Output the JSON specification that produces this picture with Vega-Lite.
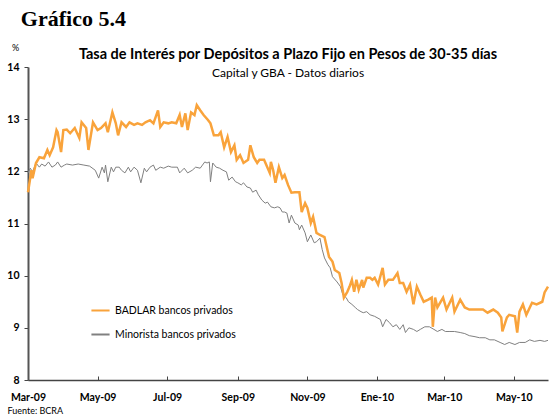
{
  "$schema": "https://vega.github.io/schema/vega-lite/v6.json",
  "background": "white",
  "padding": {"left": 6, "top": 8, "right": 2, "bottom": 2},
  "title": {"text": "Gráfico 5.4", "anchor": "start", "frame": "bounds", "font": "Liberation Serif", "fontSize": 22, "fontWeight": "bold", "color": "black", "dx": 14, "offset": 12},
  "config": {"view": {"stroke": null}, "font": "Lato", "concat": {"spacing": 0}},
  "vconcat": [
    {
      "width": 520,
      "height": 313,
      "title": {"text": "Tasa de Interés por Depósitos a Plazo Fijo en Pesos de 30-35 días", "subtitle": "Capital y GBA - Datos diarios", "font": "Lato", "fontSize": 14.5, "fontWeight": "bold", "color": "black", "subtitleFont": "Lato", "subtitleFontSize": 12, "subtitleColor": "black", "subtitlePadding": 6, "offset": -37, "anchor": "middle", "frame": "group"},
      "data": {"values": [
        {"date": "2009-03-01", "series": "Minorista", "value": 11.97},
        {"date": "2009-03-03", "series": "Minorista", "value": 12.06},
        {"date": "2009-03-05", "series": "Minorista", "value": 11.99},
        {"date": "2009-03-08", "series": "Minorista", "value": 12.16},
        {"date": "2009-03-11", "series": "Minorista", "value": 12.08},
        {"date": "2009-03-13", "series": "Minorista", "value": 12.14},
        {"date": "2009-03-16", "series": "Minorista", "value": 12.10},
        {"date": "2009-03-19", "series": "Minorista", "value": 12.18},
        {"date": "2009-03-22", "series": "Minorista", "value": 12.08},
        {"date": "2009-03-25", "series": "Minorista", "value": 12.12},
        {"date": "2009-03-27", "series": "Minorista", "value": 12.18},
        {"date": "2009-03-30", "series": "Minorista", "value": 12.08},
        {"date": "2009-04-02", "series": "Minorista", "value": 12.12},
        {"date": "2009-04-04", "series": "Minorista", "value": 12.14},
        {"date": "2009-04-09", "series": "Minorista", "value": 12.12},
        {"date": "2009-04-14", "series": "Minorista", "value": 12.14},
        {"date": "2009-04-19", "series": "Minorista", "value": 12.12},
        {"date": "2009-04-24", "series": "Minorista", "value": 12.10},
        {"date": "2009-04-29", "series": "Minorista", "value": 12.02},
        {"date": "2009-05-02", "series": "Minorista", "value": 11.87},
        {"date": "2009-05-05", "series": "Minorista", "value": 12.08},
        {"date": "2009-05-07", "series": "Minorista", "value": 11.97},
        {"date": "2009-05-08", "series": "Minorista", "value": 12.12},
        {"date": "2009-05-10", "series": "Minorista", "value": 11.80},
        {"date": "2009-05-13", "series": "Minorista", "value": 12.08},
        {"date": "2009-05-15", "series": "Minorista", "value": 11.99},
        {"date": "2009-05-17", "series": "Minorista", "value": 12.08},
        {"date": "2009-05-20", "series": "Minorista", "value": 12.08},
        {"date": "2009-05-22", "series": "Minorista", "value": 12.02},
        {"date": "2009-05-25", "series": "Minorista", "value": 11.97},
        {"date": "2009-05-28", "series": "Minorista", "value": 12.08},
        {"date": "2009-05-30", "series": "Minorista", "value": 11.99},
        {"date": "2009-06-02", "series": "Minorista", "value": 12.08},
        {"date": "2009-06-05", "series": "Minorista", "value": 12.02},
        {"date": "2009-06-08", "series": "Minorista", "value": 11.78},
        {"date": "2009-06-11", "series": "Minorista", "value": 12.06},
        {"date": "2009-06-13", "series": "Minorista", "value": 11.99},
        {"date": "2009-06-16", "series": "Minorista", "value": 12.08},
        {"date": "2009-06-19", "series": "Minorista", "value": 12.12},
        {"date": "2009-06-21", "series": "Minorista", "value": 12.02},
        {"date": "2009-06-25", "series": "Minorista", "value": 12.08},
        {"date": "2009-06-28", "series": "Minorista", "value": 12.06},
        {"date": "2009-07-02", "series": "Minorista", "value": 12.10},
        {"date": "2009-07-05", "series": "Minorista", "value": 12.08},
        {"date": "2009-07-10", "series": "Minorista", "value": 12.08},
        {"date": "2009-07-12", "series": "Minorista", "value": 11.97},
        {"date": "2009-07-16", "series": "Minorista", "value": 12.06},
        {"date": "2009-07-19", "series": "Minorista", "value": 11.97},
        {"date": "2009-07-23", "series": "Minorista", "value": 12.02},
        {"date": "2009-07-26", "series": "Minorista", "value": 12.08},
        {"date": "2009-07-30", "series": "Minorista", "value": 12.06},
        {"date": "2009-08-01", "series": "Minorista", "value": 12.12},
        {"date": "2009-08-03", "series": "Minorista", "value": 12.18},
        {"date": "2009-08-05", "series": "Minorista", "value": 12.16},
        {"date": "2009-08-07", "series": "Minorista", "value": 12.18},
        {"date": "2009-08-08", "series": "Minorista", "value": 11.80},
        {"date": "2009-08-10", "series": "Minorista", "value": 12.16},
        {"date": "2009-08-13", "series": "Minorista", "value": 12.08},
        {"date": "2009-08-16", "series": "Minorista", "value": 12.06},
        {"date": "2009-08-19", "series": "Minorista", "value": 12.02},
        {"date": "2009-08-22", "series": "Minorista", "value": 11.99},
        {"date": "2009-08-24", "series": "Minorista", "value": 11.83},
        {"date": "2009-08-27", "series": "Minorista", "value": 11.89},
        {"date": "2009-08-30", "series": "Minorista", "value": 11.80},
        {"date": "2009-09-01", "series": "Minorista", "value": 11.78},
        {"date": "2009-09-04", "series": "Minorista", "value": 11.74},
        {"date": "2009-09-06", "series": "Minorista", "value": 11.78},
        {"date": "2009-09-09", "series": "Minorista", "value": 11.70},
        {"date": "2009-09-12", "series": "Minorista", "value": 11.68},
        {"date": "2009-09-14", "series": "Minorista", "value": 11.60},
        {"date": "2009-09-17", "series": "Minorista", "value": 11.64},
        {"date": "2009-09-19", "series": "Minorista", "value": 11.55},
        {"date": "2009-09-22", "series": "Minorista", "value": 11.45},
        {"date": "2009-09-25", "series": "Minorista", "value": 11.39},
        {"date": "2009-09-27", "series": "Minorista", "value": 11.41},
        {"date": "2009-09-30", "series": "Minorista", "value": 11.32},
        {"date": "2009-10-03", "series": "Minorista", "value": 11.30},
        {"date": "2009-10-06", "series": "Minorista", "value": 11.32},
        {"date": "2009-10-08", "series": "Minorista", "value": 11.30},
        {"date": "2009-10-10", "series": "Minorista", "value": 11.22},
        {"date": "2009-10-12", "series": "Minorista", "value": 11.22},
        {"date": "2009-10-14", "series": "Minorista", "value": 11.20},
        {"date": "2009-10-16", "series": "Minorista", "value": 11.01},
        {"date": "2009-10-18", "series": "Minorista", "value": 11.16},
        {"date": "2009-10-21", "series": "Minorista", "value": 11.01},
        {"date": "2009-10-24", "series": "Minorista", "value": 10.97},
        {"date": "2009-10-25", "series": "Minorista", "value": 10.88},
        {"date": "2009-10-27", "series": "Minorista", "value": 10.97},
        {"date": "2009-10-30", "series": "Minorista", "value": 10.82},
        {"date": "2009-11-01", "series": "Minorista", "value": 10.65},
        {"date": "2009-11-04", "series": "Minorista", "value": 10.78},
        {"date": "2009-11-07", "series": "Minorista", "value": 10.63},
        {"date": "2009-11-09", "series": "Minorista", "value": 10.65},
        {"date": "2009-11-12", "series": "Minorista", "value": 10.72},
        {"date": "2009-11-14", "series": "Minorista", "value": 10.50},
        {"date": "2009-11-16", "series": "Minorista", "value": 10.34},
        {"date": "2009-11-19", "series": "Minorista", "value": 10.21},
        {"date": "2009-11-21", "series": "Minorista", "value": 10.15},
        {"date": "2009-11-23", "series": "Minorista", "value": 9.98},
        {"date": "2009-11-27", "series": "Minorista", "value": 9.88},
        {"date": "2009-11-30", "series": "Minorista", "value": 9.79},
        {"date": "2009-12-02", "series": "Minorista", "value": 9.64},
        {"date": "2009-12-05", "series": "Minorista", "value": 9.58},
        {"date": "2009-12-07", "series": "Minorista", "value": 9.50},
        {"date": "2009-12-10", "series": "Minorista", "value": 9.45},
        {"date": "2009-12-13", "series": "Minorista", "value": 9.39},
        {"date": "2009-12-15", "series": "Minorista", "value": 9.35},
        {"date": "2009-12-18", "series": "Minorista", "value": 9.31},
        {"date": "2009-12-20", "series": "Minorista", "value": 9.29},
        {"date": "2009-12-23", "series": "Minorista", "value": 9.31},
        {"date": "2009-12-26", "series": "Minorista", "value": 9.25},
        {"date": "2009-12-30", "series": "Minorista", "value": 9.22},
        {"date": "2010-01-04", "series": "Minorista", "value": 9.16},
        {"date": "2010-01-06", "series": "Minorista", "value": 9.02},
        {"date": "2010-01-09", "series": "Minorista", "value": 9.16},
        {"date": "2010-01-12", "series": "Minorista", "value": 9.10},
        {"date": "2010-01-15", "series": "Minorista", "value": 9.02},
        {"date": "2010-01-18", "series": "Minorista", "value": 9.06},
        {"date": "2010-01-21", "series": "Minorista", "value": 8.97},
        {"date": "2010-01-24", "series": "Minorista", "value": 9.06},
        {"date": "2010-01-26", "series": "Minorista", "value": 8.91},
        {"date": "2010-01-29", "series": "Minorista", "value": 9.00},
        {"date": "2010-02-02", "series": "Minorista", "value": 8.97},
        {"date": "2010-02-05", "series": "Minorista", "value": 8.93},
        {"date": "2010-02-08", "series": "Minorista", "value": 8.97},
        {"date": "2010-02-12", "series": "Minorista", "value": 9.02},
        {"date": "2010-02-16", "series": "Minorista", "value": 9.02},
        {"date": "2010-02-20", "series": "Minorista", "value": 8.97},
        {"date": "2010-02-23", "series": "Minorista", "value": 8.93},
        {"date": "2010-02-27", "series": "Minorista", "value": 8.97},
        {"date": "2010-03-02", "series": "Minorista", "value": 8.93},
        {"date": "2010-03-06", "series": "Minorista", "value": 8.93},
        {"date": "2010-03-10", "series": "Minorista", "value": 8.93},
        {"date": "2010-03-15", "series": "Minorista", "value": 8.91},
        {"date": "2010-03-19", "series": "Minorista", "value": 8.89},
        {"date": "2010-03-23", "series": "Minorista", "value": 8.85},
        {"date": "2010-03-28", "series": "Minorista", "value": 8.83},
        {"date": "2010-04-01", "series": "Minorista", "value": 8.81},
        {"date": "2010-04-06", "series": "Minorista", "value": 8.81},
        {"date": "2010-04-10", "series": "Minorista", "value": 8.77},
        {"date": "2010-04-14", "series": "Minorista", "value": 8.77},
        {"date": "2010-04-19", "series": "Minorista", "value": 8.72},
        {"date": "2010-04-23", "series": "Minorista", "value": 8.68},
        {"date": "2010-04-27", "series": "Minorista", "value": 8.72},
        {"date": "2010-05-02", "series": "Minorista", "value": 8.68},
        {"date": "2010-05-06", "series": "Minorista", "value": 8.72},
        {"date": "2010-05-11", "series": "Minorista", "value": 8.72},
        {"date": "2010-05-15", "series": "Minorista", "value": 8.77},
        {"date": "2010-05-19", "series": "Minorista", "value": 8.74},
        {"date": "2010-05-24", "series": "Minorista", "value": 8.76},
        {"date": "2010-05-28", "series": "Minorista", "value": 8.74},
        {"date": "2010-05-31", "series": "Minorista", "value": 8.76},
        {"date": "2009-03-01", "series": "BADLAR", "value": 11.60},
        {"date": "2009-03-04", "series": "BADLAR", "value": 12.02},
        {"date": "2009-03-05", "series": "BADLAR", "value": 11.87},
        {"date": "2009-03-08", "series": "BADLAR", "value": 12.16},
        {"date": "2009-03-11", "series": "BADLAR", "value": 12.27},
        {"date": "2009-03-15", "series": "BADLAR", "value": 12.25},
        {"date": "2009-03-18", "series": "BADLAR", "value": 12.41},
        {"date": "2009-03-20", "series": "BADLAR", "value": 12.31},
        {"date": "2009-03-23", "series": "BADLAR", "value": 12.46},
        {"date": "2009-03-26", "series": "BADLAR", "value": 12.79},
        {"date": "2009-03-27", "series": "BADLAR", "value": 12.75},
        {"date": "2009-03-30", "series": "BADLAR", "value": 12.37},
        {"date": "2009-04-01", "series": "BADLAR", "value": 12.79},
        {"date": "2009-04-04", "series": "BADLAR", "value": 12.80},
        {"date": "2009-04-07", "series": "BADLAR", "value": 12.73},
        {"date": "2009-04-11", "series": "BADLAR", "value": 12.83},
        {"date": "2009-04-15", "series": "BADLAR", "value": 12.64},
        {"date": "2009-04-17", "series": "BADLAR", "value": 12.94},
        {"date": "2009-04-21", "series": "BADLAR", "value": 12.83},
        {"date": "2009-04-23", "series": "BADLAR", "value": 12.41},
        {"date": "2009-04-27", "series": "BADLAR", "value": 12.94},
        {"date": "2009-05-01", "series": "BADLAR", "value": 12.79},
        {"date": "2009-05-04", "series": "BADLAR", "value": 12.83},
        {"date": "2009-05-08", "series": "BADLAR", "value": 12.92},
        {"date": "2009-05-10", "series": "BADLAR", "value": 12.75},
        {"date": "2009-05-14", "series": "BADLAR", "value": 13.13},
        {"date": "2009-05-17", "series": "BADLAR", "value": 12.92},
        {"date": "2009-05-19", "series": "BADLAR", "value": 12.69},
        {"date": "2009-05-22", "series": "BADLAR", "value": 12.94},
        {"date": "2009-05-26", "series": "BADLAR", "value": 12.85},
        {"date": "2009-05-29", "series": "BADLAR", "value": 12.94},
        {"date": "2009-06-02", "series": "BADLAR", "value": 12.89},
        {"date": "2009-06-05", "series": "BADLAR", "value": 12.92},
        {"date": "2009-06-09", "series": "BADLAR", "value": 12.89},
        {"date": "2009-06-12", "series": "BADLAR", "value": 12.94},
        {"date": "2009-06-16", "series": "BADLAR", "value": 12.98},
        {"date": "2009-06-19", "series": "BADLAR", "value": 12.92},
        {"date": "2009-06-23", "series": "BADLAR", "value": 13.17},
        {"date": "2009-06-25", "series": "BADLAR", "value": 12.85},
        {"date": "2009-06-28", "series": "BADLAR", "value": 12.94},
        {"date": "2009-07-02", "series": "BADLAR", "value": 12.92},
        {"date": "2009-07-05", "series": "BADLAR", "value": 12.94},
        {"date": "2009-07-09", "series": "BADLAR", "value": 12.92},
        {"date": "2009-07-12", "series": "BADLAR", "value": 13.08},
        {"date": "2009-07-14", "series": "BADLAR", "value": 12.85},
        {"date": "2009-07-17", "series": "BADLAR", "value": 13.11},
        {"date": "2009-07-19", "series": "BADLAR", "value": 12.79},
        {"date": "2009-07-22", "series": "BADLAR", "value": 13.13},
        {"date": "2009-07-25", "series": "BADLAR", "value": 13.08},
        {"date": "2009-07-27", "series": "BADLAR", "value": 13.27},
        {"date": "2009-07-30", "series": "BADLAR", "value": 13.17},
        {"date": "2009-08-02", "series": "BADLAR", "value": 13.08},
        {"date": "2009-08-06", "series": "BADLAR", "value": 12.98},
        {"date": "2009-08-08", "series": "BADLAR", "value": 12.92},
        {"date": "2009-08-11", "series": "BADLAR", "value": 12.69},
        {"date": "2009-08-15", "series": "BADLAR", "value": 12.69},
        {"date": "2009-08-17", "series": "BADLAR", "value": 12.75},
        {"date": "2009-08-20", "series": "BADLAR", "value": 12.46},
        {"date": "2009-08-23", "series": "BADLAR", "value": 12.66},
        {"date": "2009-08-26", "series": "BADLAR", "value": 12.37},
        {"date": "2009-08-29", "series": "BADLAR", "value": 12.50},
        {"date": "2009-08-31", "series": "BADLAR", "value": 12.22},
        {"date": "2009-09-03", "series": "BADLAR", "value": 12.31},
        {"date": "2009-09-06", "series": "BADLAR", "value": 12.16},
        {"date": "2009-09-10", "series": "BADLAR", "value": 12.22},
        {"date": "2009-09-12", "series": "BADLAR", "value": 12.50},
        {"date": "2009-09-15", "series": "BADLAR", "value": 12.27},
        {"date": "2009-09-18", "series": "BADLAR", "value": 12.16},
        {"date": "2009-09-20", "series": "BADLAR", "value": 12.22},
        {"date": "2009-09-24", "series": "BADLAR", "value": 12.22},
        {"date": "2009-09-26", "series": "BADLAR", "value": 12.12},
        {"date": "2009-09-29", "series": "BADLAR", "value": 11.97},
        {"date": "2009-09-30", "series": "BADLAR", "value": 12.18},
        {"date": "2009-10-02", "series": "BADLAR", "value": 12.02},
        {"date": "2009-10-04", "series": "BADLAR", "value": 11.78},
        {"date": "2009-10-07", "series": "BADLAR", "value": 12.08},
        {"date": "2009-10-10", "series": "BADLAR", "value": 11.87},
        {"date": "2009-10-12", "series": "BADLAR", "value": 11.93},
        {"date": "2009-10-15", "series": "BADLAR", "value": 11.74},
        {"date": "2009-10-18", "series": "BADLAR", "value": 11.59},
        {"date": "2009-10-21", "series": "BADLAR", "value": 11.60},
        {"date": "2009-10-25", "series": "BADLAR", "value": 11.60},
        {"date": "2009-10-27", "series": "BADLAR", "value": 11.22},
        {"date": "2009-10-30", "series": "BADLAR", "value": 11.39},
        {"date": "2009-11-01", "series": "BADLAR", "value": 11.30},
        {"date": "2009-11-04", "series": "BADLAR", "value": 11.01},
        {"date": "2009-11-06", "series": "BADLAR", "value": 11.13},
        {"date": "2009-11-09", "series": "BADLAR", "value": 10.82},
        {"date": "2009-11-12", "series": "BADLAR", "value": 10.78},
        {"date": "2009-11-16", "series": "BADLAR", "value": 10.74},
        {"date": "2009-11-20", "series": "BADLAR", "value": 10.36},
        {"date": "2009-11-23", "series": "BADLAR", "value": 10.27},
        {"date": "2009-11-25", "series": "BADLAR", "value": 10.11},
        {"date": "2009-11-29", "series": "BADLAR", "value": 10.05},
        {"date": "2009-12-01", "series": "BADLAR", "value": 9.86},
        {"date": "2009-12-03", "series": "BADLAR", "value": 9.58},
        {"date": "2009-12-06", "series": "BADLAR", "value": 9.69},
        {"date": "2009-12-08", "series": "BADLAR", "value": 9.79},
        {"date": "2009-12-10", "series": "BADLAR", "value": 9.92},
        {"date": "2009-12-12", "series": "BADLAR", "value": 9.69},
        {"date": "2009-12-14", "series": "BADLAR", "value": 9.92},
        {"date": "2009-12-16", "series": "BADLAR", "value": 9.73},
        {"date": "2009-12-19", "series": "BADLAR", "value": 9.92},
        {"date": "2009-12-20", "series": "BADLAR", "value": 9.77},
        {"date": "2009-12-23", "series": "BADLAR", "value": 9.96},
        {"date": "2009-12-26", "series": "BADLAR", "value": 9.96},
        {"date": "2009-12-28", "series": "BADLAR", "value": 9.92},
        {"date": "2009-12-30", "series": "BADLAR", "value": 9.96},
        {"date": "2010-01-02", "series": "BADLAR", "value": 9.83},
        {"date": "2010-01-06", "series": "BADLAR", "value": 10.15},
        {"date": "2010-01-08", "series": "BADLAR", "value": 9.83},
        {"date": "2010-01-11", "series": "BADLAR", "value": 9.92},
        {"date": "2010-01-15", "series": "BADLAR", "value": 9.92},
        {"date": "2010-01-19", "series": "BADLAR", "value": 10.05},
        {"date": "2010-01-21", "series": "BADLAR", "value": 9.86},
        {"date": "2010-01-24", "series": "BADLAR", "value": 9.86},
        {"date": "2010-01-27", "series": "BADLAR", "value": 9.69},
        {"date": "2010-01-30", "series": "BADLAR", "value": 9.83},
        {"date": "2010-02-02", "series": "BADLAR", "value": 9.45},
        {"date": "2010-02-05", "series": "BADLAR", "value": 9.79},
        {"date": "2010-02-08", "series": "BADLAR", "value": 9.64},
        {"date": "2010-02-11", "series": "BADLAR", "value": 9.50},
        {"date": "2010-02-15", "series": "BADLAR", "value": 9.54},
        {"date": "2010-02-18", "series": "BADLAR", "value": 9.58},
        {"date": "2010-02-19", "series": "BADLAR", "value": 9.02},
        {"date": "2010-02-21", "series": "BADLAR", "value": 9.58},
        {"date": "2010-02-23", "series": "BADLAR", "value": 9.39},
        {"date": "2010-02-28", "series": "BADLAR", "value": 9.58},
        {"date": "2010-03-03", "series": "BADLAR", "value": 9.35},
        {"date": "2010-03-08", "series": "BADLAR", "value": 9.58},
        {"date": "2010-03-10", "series": "BADLAR", "value": 9.31},
        {"date": "2010-03-15", "series": "BADLAR", "value": 9.54},
        {"date": "2010-03-19", "series": "BADLAR", "value": 9.39},
        {"date": "2010-03-23", "series": "BADLAR", "value": 9.35},
        {"date": "2010-03-30", "series": "BADLAR", "value": 9.35},
        {"date": "2010-04-04", "series": "BADLAR", "value": 9.35},
        {"date": "2010-04-08", "series": "BADLAR", "value": 9.29},
        {"date": "2010-04-13", "series": "BADLAR", "value": 9.35},
        {"date": "2010-04-17", "series": "BADLAR", "value": 9.29},
        {"date": "2010-04-20", "series": "BADLAR", "value": 9.20},
        {"date": "2010-04-21", "series": "BADLAR", "value": 8.93},
        {"date": "2010-04-25", "series": "BADLAR", "value": 9.20},
        {"date": "2010-04-27", "series": "BADLAR", "value": 9.25},
        {"date": "2010-05-02", "series": "BADLAR", "value": 9.22},
        {"date": "2010-05-04", "series": "BADLAR", "value": 8.91},
        {"date": "2010-05-06", "series": "BADLAR", "value": 9.31},
        {"date": "2010-05-09", "series": "BADLAR", "value": 9.45},
        {"date": "2010-05-12", "series": "BADLAR", "value": 9.25},
        {"date": "2010-05-17", "series": "BADLAR", "value": 9.48},
        {"date": "2010-05-21", "series": "BADLAR", "value": 9.45},
        {"date": "2010-05-26", "series": "BADLAR", "value": 9.50},
        {"date": "2010-05-28", "series": "BADLAR", "value": 9.68},
        {"date": "2010-05-31", "series": "BADLAR", "value": 9.79}
      ]},
      "encoding": {
        "x": {
          "field": "date", "type": "temporal",
          "scale": {"type": "utc", "domain": [{"year": 2009, "month": 3, "date": 1, "utc": true}, {"year": 2010, "month": 5, "date": 31, "utc": true}]},
          "axis": {
            "values": [
              {"year": 2009, "month": 3, "date": 1, "utc": true},
              {"year": 2009, "month": 5, "date": 1, "utc": true},
              {"year": 2009, "month": 7, "date": 1, "utc": true},
              {"year": 2009, "month": 9, "date": 1, "utc": true},
              {"year": 2009, "month": 11, "date": 1, "utc": true},
              {"year": 2010, "month": 1, "date": 1, "utc": true},
              {"year": 2010, "month": 3, "date": 1, "utc": true},
              {"year": 2010, "month": 5, "date": 1, "utc": true}
            ],
            "labelExpr": "['Ene','Feb','Mar','Abr','May','Jun','Jul','Ago','Sep','Oct','Nov','Dic'][utcmonth(datum.value)] + '-' + utcFormat(datum.value, '%y')",
            "labelFont": "Lato", "labelFontSize": 10.5, "labelFontWeight": "bold", "labelColor": "black",
            "labelPadding": 16, "labelFlush": false, "labelOverlap": false,
            "tickSize": -4, "tickColor": "#444", "tickWidth": 1,
            "domainColor": "#444", "domainWidth": 1.5,
            "grid": false,
            "title": "Fuente: BCRA", "titleFont": "Lato", "titleFontSize": 9, "titleFontWeight": "normal", "titleColor": "black",
            "titleAlign": "left", "titleAnchor": "start", "titleX": -21, "titleY": 30, "titleBaseline": "middle"
          }
        },
        "y": {
          "field": "value", "type": "quantitative",
          "scale": {"domain": [8, 14], "nice": false, "zero": false},
          "axis": {
            "values": [8, 9, 10, 11, 12, 13, 14],
            "labelFont": "Lato", "labelFontSize": 10.5, "labelFontWeight": "bold", "labelColor": "black",
            "labelPadding": 5, "tickSize": 4, "tickColor": "#444", "domainColor": "#555", "domainWidth": 2,
            "grid": false,
            "title": "%", "titleAngle": 0, "titleFont": "Lato", "titleFontSize": 9, "titleFontWeight": "normal", "titleColor": "black",
            "titleX": -13, "titleY": -20, "titleAlign": "center", "titleBaseline": "middle"
          }
        },
        "color": {
          "field": "series", "type": "nominal",
          "scale": {"domain": ["BADLAR", "Minorista"], "range": ["#F9A33B", "#808080"]},
          "legend": {
            "title": null, "orient": "none", "legendX": 62, "legendY": 233,
            "symbolType": "stroke", "symbolSize": 330, "symbolStrokeWidth": 2,
            "labelExpr": "datum.label + ' bancos privados'",
            "labelFont": "Lato", "labelFontSize": 10.5, "labelColor": "black", "labelOffset": 4,
            "rowPadding": 8
          }
        }
      },
      "layer": [
        {"transform": [{"filter": "datum.series === 'Minorista'"}], "mark": {"type": "line", "strokeWidth": 1, "interpolate": "linear"}},
        {"transform": [{"filter": "datum.series === 'BADLAR'"}], "mark": {"type": "line", "strokeWidth": 2.5, "interpolate": "linear"}}
      ]
    }
  ]
}
